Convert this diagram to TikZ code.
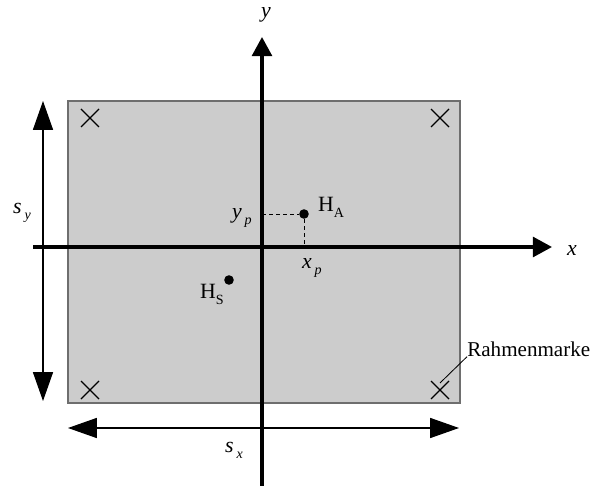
\documentclass[tikz,border=0pt]{standalone}
\usepackage{fontspec}
\setmainfont{Liberation Serif}
\usepackage{tikz}
\usetikzlibrary{arrows.meta,positioning}

\definecolor{bildgrau}{HTML}{CCCCCC}
\definecolor{randgrau}{HTML}{6E6E6E}
\newcommand{\tief}[1]{\raisebox{-0.6ex}{\fontsize{10}{12}\selectfont #1}}
\newcommand{\tiefk}[1]{\kern2pt\tief{#1}}

\tikzset{
  achse/.style={line width=2.3pt, -{Triangle[length=0.48cm, width=0.5cm]}},
  mass/.style={line width=0.8pt, {Triangle[length=0.72cm, width=0.5cm]}-{Triangle[length=0.72cm, width=0.5cm]}},
  marke/.style={line width=1pt},
  punkt/.style={circle, fill=black, inner sep=0pt, minimum size=0.24cm},
  lbl/.style={inner sep=1pt, font=\fontsize{15.5}{18}\selectfont}
}

\begin{document}
\begin{tikzpicture}[x=0.025cm, y=-0.025cm]
\useasboundingbox (0,0) rectangle (594,486);
\draw[fill=bildgrau, draw=randgrau, line width=1.1pt] (68,101) rectangle (460,403);
% Rahmenmarken
\foreach \mx/\my in {90/118, 440/118, 90/390, 440/390}
  \draw[marke] (\mx-9,\my-9) -- (\mx+9,\my+9) (\mx-9,\my+9) -- (\mx+9,\my-9);
% Achsen
\coordinate (xl) at (33,247);
\coordinate (xr) at (552,247);
\coordinate (yu) at (262,486);
\coordinate (yo) at (262,37);
\draw[achse] (xl) -- (xr);
\draw[achse] (yu) -- (yo);
\node[lbl] (xlab) at (572,250) {\textit{x}};
\node[lbl] (ylab) at (266,15) {\textit{y}};
% Hauptpunkte
\node[punkt] (ha) at (304,214) {};
\node[punkt] (hs) at (229,280) {};
\coordinate (yp) at (262,214);
\coordinate (xp) at (304,247);
\draw[dashed, line width=0.7pt, dash pattern=on 3pt off 2pt] (yp) -- (ha) -- (xp);
\node[lbl] (halab) at (331,207) {H\tief{A}};
\node[lbl] (hslab) at (212,294) {H\tief{S}};
\node[lbl] (yplab) at (242,218) {\textit{y}\tiefk{\textit{p}}};
\node[lbl] (xplab) at (312,268) {\textit{x}\tiefk{\textit{p}}};
% Bildformat
\coordinate (sy1) at (43,101);
\coordinate (sy2) at (43,401);
\coordinate (sx1) at (68,428);
\coordinate (sx2) at (459,428);
\draw[mass] (sy1) -- (sy2);
\draw[mass] (sx1) -- (sx2);
\node[lbl] (sylab) at (22,213) {\textit{s}\tiefk{\textit{y}}};
\node[lbl] (sxlab) at (234,450) {\textit{s}\tiefk{\textit{x}}};
% Beschriftung
\node[lbl, anchor=west, inner sep=0pt, font=\fontsize{15}{18}\selectfont] (rm) at (467,349) {Rahmenmarke};
\coordinate (rmx) at (440,383);
\draw[line width=0.6pt] (rmx) -- (rm.south west);
\end{tikzpicture}
\end{document}
